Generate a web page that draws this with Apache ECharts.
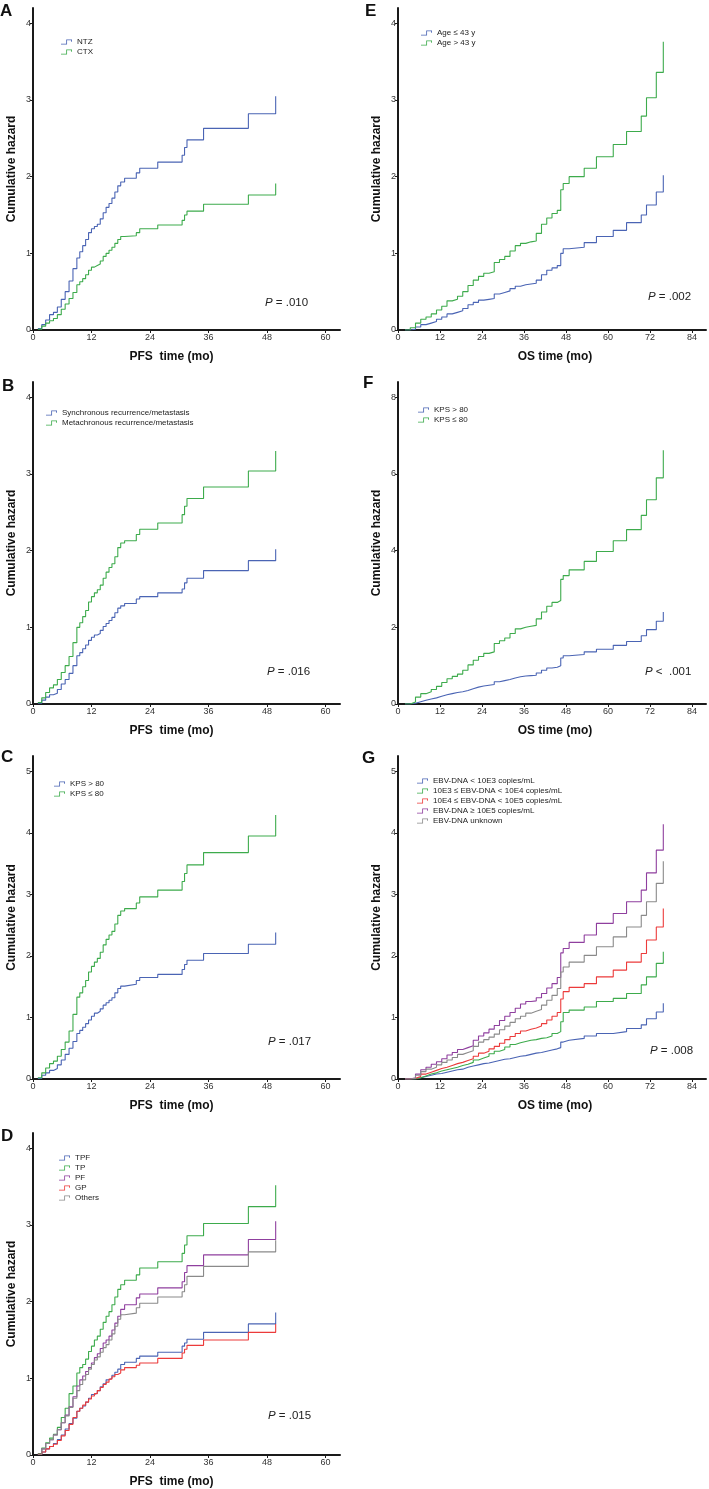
<!DOCTYPE html>
<html>
<head>
<meta charset="utf-8">
<script src="https://cdn.jsdelivr.net/npm/echarts@6/dist/echarts.min.js"></script>
<style>
html, body { margin: 0; padding: 0; background: #fff; }
#chartContainer { width: 709px; height: 1489px; }
</style>
</head>
<body>
<div id="chartContainer"></div>
<script>
'use strict';
// event times (months)
const pfsTimes = [1, 1.8, 2.6, 3.4, 4.2, 5, 5.8, 6.6, 7.4, 8.2, 9, 9.6, 10.2, 10.8, 11.4, 12, 12.6, 13.2, 13.8, 14.4,
    15, 15.6, 16.2, 16.8, 17.4, 18, 18.8, 21.2, 21.9, 25.6, 30.6, 31.1, 31.6, 35, 44.2, 49.8];
const osTimes = [2, 3.5, 5, 6.5, 8, 9.5, 11, 12.5, 14, 15.5, 17, 18.5, 20, 21.5, 23, 24.5, 26, 27.5, 29, 30.5,
    32, 33.5, 35, 36.5, 38, 39.5, 41, 42.5, 44, 45.5, 46.5, 47.2, 48.9, 53.2, 56.7, 61.5, 65.3, 69.5, 71, 73.8, 75.8];

// cumulative hazard, panel A
const aNtz = [0.02, 0.07, 0.13, 0.2, 0.23, 0.3, 0.4, 0.5, 0.64, 0.8, 0.94, 1.02, 1.1, 1.18, 1.27, 1.32, 1.35, 1.38, 1.45, 1.53,
    1.6, 1.65, 1.72, 1.8, 1.88, 1.93, 1.98, 2.05, 2.11, 2.19, 2.28, 2.38, 2.48, 2.63, 2.82, 3.05];
const aCtx = [0.01, 0.05, 0.09, 0.12, 0.15, 0.2, 0.27, 0.34, 0.41, 0.49, 0.59, 0.63, 0.67, 0.72, 0.78, 0.82, 0.84, 0.86, 0.9, 0.96,
    1.0, 1.04, 1.08, 1.13, 1.18, 1.22, 1.23, 1.27, 1.32, 1.37, 1.43, 1.5, 1.55, 1.64, 1.76, 1.91];
// panel B
const bSync = [0.01, 0.05, 0.09, 0.12, 0.14, 0.19, 0.26, 0.32, 0.4, 0.5, 0.63, 0.67, 0.72, 0.77, 0.83, 0.87, 0.9, 0.92, 0.96, 1.01,
    1.05, 1.09, 1.13, 1.19, 1.25, 1.28, 1.31, 1.37, 1.4, 1.45, 1.5, 1.58, 1.64, 1.74, 1.87, 2.02];
const bMeta = [0.02, 0.08, 0.15, 0.21, 0.25, 0.32, 0.41, 0.5, 0.62, 0.8, 1.0, 1.06, 1.14, 1.22, 1.33, 1.4, 1.45, 1.49, 1.55, 1.64,
    1.72, 1.78, 1.83, 1.92, 2.04, 2.1, 2.13, 2.21, 2.28, 2.36, 2.47, 2.58, 2.68, 2.83, 3.04, 3.3];
// panel C
const cKpsHi = [0.01, 0.06, 0.1, 0.14, 0.17, 0.23, 0.31, 0.4, 0.5, 0.61, 0.74, 0.79, 0.84, 0.9, 0.96, 1.02, 1.07, 1.1, 1.14, 1.2,
    1.24, 1.28, 1.32, 1.4, 1.47, 1.51, 1.54, 1.6, 1.65, 1.7, 1.78, 1.86, 1.93, 2.04, 2.19, 2.38];
const cKpsLo = [0.02, 0.1, 0.18, 0.25, 0.29, 0.37, 0.48, 0.6, 0.78, 1.05, 1.33, 1.4, 1.5, 1.6, 1.74, 1.83, 1.9, 1.96, 2.06, 2.18,
    2.27, 2.34, 2.4, 2.52, 2.66, 2.73, 2.77, 2.86, 2.96, 3.07, 3.21, 3.34, 3.48, 3.68, 3.95, 4.29];
// panel D
const dTpf = [0.01, 0.04, 0.08, 0.11, 0.15, 0.2, 0.26, 0.34, 0.41, 0.48, 0.57, 0.61, 0.64, 0.69, 0.74, 0.79, 0.81, 0.84, 0.89, 0.93,
    0.98, 1.0, 1.04, 1.08, 1.12, 1.18, 1.21, 1.26, 1.29, 1.34, 1.42, 1.46, 1.51, 1.6, 1.71, 1.86];
const dTp = [0.02, 0.09, 0.16, 0.22, 0.27, 0.36, 0.49, 0.61, 0.8, 0.9, 1.07, 1.14, 1.18, 1.25, 1.35, 1.42, 1.5, 1.55, 1.64, 1.73,
    1.81, 1.87, 1.96, 2.06, 2.16, 2.22, 2.28, 2.35, 2.44, 2.52, 2.63, 2.74, 2.86, 3.02, 3.24, 3.52];
const dPf = [0.01, 0.08, 0.15, 0.2, 0.26, 0.33, 0.42, 0.52, 0.63, 0.76, 0.9, 0.98, 1.03, 1.09, 1.14, 1.2, 1.27, 1.32, 1.39, 1.46,
    1.5, 1.55, 1.63, 1.72, 1.81, 1.9, 1.96, 2.05, 2.1, 2.18, 2.26, 2.38, 2.47, 2.61, 2.81, 3.05];
const dGp = [0.01, 0.04, 0.08, 0.11, 0.14, 0.19, 0.25, 0.32, 0.4, 0.49, 0.57, 0.61, 0.65, 0.69, 0.73, 0.77, 0.8, 0.84, 0.88, 0.92,
    0.95, 0.99, 1.02, 1.05, 1.07, 1.11, 1.14, 1.17, 1.2, 1.26, 1.33, 1.38, 1.43, 1.5, 1.6, 1.71];
const dOthers = [0.01, 0.08, 0.15, 0.2, 0.26, 0.33, 0.42, 0.51, 0.62, 0.74, 0.84, 0.92, 0.98, 1.05, 1.12, 1.18, 1.24, 1.28, 1.34, 1.4,
    1.44, 1.5, 1.58, 1.68, 1.77, 1.83, 1.85, 1.92, 1.98, 2.06, 2.13, 2.22, 2.33, 2.46, 2.65, 2.8];
// panel E
const eAgeLo = [0, 0.01, 0.04, 0.07, 0.09, 0.11, 0.14, 0.17, 0.21, 0.23, 0.25, 0.28, 0.33, 0.36, 0.39, 0.4, 0.41, 0.47, 0.49, 0.51,
    0.54, 0.57, 0.59, 0.6, 0.61, 0.65, 0.72, 0.78, 0.81, 0.84, 1.0, 1.06, 1.08, 1.14, 1.22, 1.3, 1.4, 1.5, 1.63, 1.8, 2.02];
const eAgeHi = [0, 0.03, 0.09, 0.14, 0.17, 0.21, 0.26, 0.31, 0.38, 0.4, 0.44, 0.5, 0.58, 0.65, 0.7, 0.74, 0.76, 0.88, 0.92, 0.96,
    1.03, 1.1, 1.13, 1.15, 1.16, 1.26, 1.38, 1.46, 1.52, 1.56, 1.83, 1.91, 2.0, 2.11, 2.26, 2.42, 2.59, 2.79, 3.03, 3.36, 3.76];
// panel F
const fKpsHi = [0, 0.02, 0.06, 0.1, 0.13, 0.16, 0.2, 0.24, 0.27, 0.3, 0.32, 0.35, 0.4, 0.44, 0.47, 0.49, 0.51, 0.58, 0.61, 0.64,
    0.68, 0.71, 0.73, 0.74, 0.75, 0.81, 0.88, 0.94, 0.96, 1.0, 1.2, 1.26, 1.29, 1.36, 1.43, 1.53, 1.63, 1.78, 1.94, 2.16, 2.4];
const fKpsLo = [0, 0.05, 0.18, 0.27, 0.32, 0.38, 0.46, 0.56, 0.66, 0.72, 0.78, 0.88, 1.02, 1.14, 1.24, 1.32, 1.36, 1.58, 1.65, 1.72,
    1.84, 1.96, 2.0, 2.03, 2.05, 2.22, 2.4, 2.55, 2.65, 2.7, 3.25, 3.35, 3.5, 3.72, 3.98, 4.26, 4.55, 4.92, 5.33, 5.9, 6.62];
// panel G
const gLt3 = [0, 0, 0.02, 0.04, 0.06, 0.08, 0.09, 0.11, 0.13, 0.15, 0.16, 0.19, 0.21, 0.23, 0.25, 0.26, 0.28, 0.3, 0.32, 0.33,
    0.35, 0.37, 0.38, 0.4, 0.42, 0.43, 0.45, 0.47, 0.49, 0.51, 0.6, 0.63, 0.66, 0.7, 0.74, 0.77, 0.82, 0.88, 0.98, 1.09, 1.23];
const gE3E4 = [0, 0, 0.02, 0.05, 0.08, 0.1, 0.13, 0.15, 0.17, 0.19, 0.22, 0.24, 0.27, 0.31, 0.34, 0.37, 0.41, 0.45, 0.48, 0.52,
    0.56, 0.59, 0.61, 0.63, 0.64, 0.66, 0.67, 0.7, 0.74, 0.77, 0.93, 1.08, 1.12, 1.17, 1.26, 1.31, 1.39, 1.53, 1.66, 1.88, 2.07];
const gE4E5 = [0, 0.01, 0.04, 0.08, 0.11, 0.14, 0.17, 0.19, 0.22, 0.25, 0.27, 0.3, 0.33, 0.37, 0.42, 0.45, 0.49, 0.53, 0.58, 0.64,
    0.69, 0.74, 0.78, 0.81, 0.83, 0.86, 0.9, 0.96, 1.02, 1.08, 1.3, 1.42, 1.49, 1.55, 1.66, 1.77, 1.9, 2.04, 2.26, 2.47, 2.77];
const gGe5 = [0, 0.02, 0.08, 0.15, 0.19, 0.24, 0.28, 0.33, 0.39, 0.43, 0.48, 0.51, 0.54, 0.63, 0.7, 0.75, 0.81, 0.87, 0.95, 1.02,
    1.08, 1.15, 1.22, 1.26, 1.27, 1.32, 1.39, 1.48, 1.55, 1.65, 2.05, 2.12, 2.22, 2.34, 2.53, 2.69, 2.88, 3.07, 3.35, 3.72, 4.14];
const gUnknown = [0, 0.01, 0.06, 0.12, 0.16, 0.19, 0.23, 0.27, 0.31, 0.35, 0.4, 0.43, 0.46, 0.53, 0.6, 0.64, 0.68, 0.73, 0.8, 0.86,
    0.92, 0.98, 1.02, 1.07, 1.1, 1.13, 1.2, 1.28, 1.36, 1.47, 1.74, 1.82, 1.9, 2.01, 2.15, 2.31, 2.47, 2.66, 2.88, 3.18, 3.54];

// tick labels
const pfsTicks = [0, 12, 24, 36, 48, 60];
const osTicks = [0, 12, 24, 36, 48, 60, 72, 84];
const hazTicks4 = [0, 1, 2, 3, 4];
const hazTicks5 = [0, 1, 2, 3, 4, 5];
const hazTicks8 = [0, 2, 4, 6, 8];

let initChart = (function() {
    const FONT = '"Liberation Sans", Arial, sans-serif';
    const BLUE = '#4a64b4', GREEN = '#3dab4c', PURPLE = '#8f3f9e', RED = '#ec3b3b', GRAY = '#8a8a8a';
    const STEP_ICON = 'path://M0,8.5H9.5V0.5H20V5H18.5V2H11V10H0Z';

    let panels = [
        {letter: 'A', letterPos: [0, 3], box: [33, 8, 307, 322], times: pfsTimes, xMax: 63, xTicks: pfsTicks,
            yMax: 4.2, yTicks: hazTicks4, xName: 'PFS  time (mo)', xNamePad: [0, 30, 0, 0],
            pText: '{i|P} = .010', pPos: [265, 297], legendPos: [61, 37],
            lines: [['NTZ', aNtz, BLUE], ['CTX', aCtx, GREEN]]},
        {letter: 'B', letterPos: [2, 378], box: [33, 382, 307, 322], times: pfsTimes, xMax: 63, xTicks: pfsTicks,
            yMax: 4.2, yTicks: hazTicks4, xName: 'PFS  time (mo)', xNamePad: [0, 30, 0, 0],
            pText: '{i|P} = .016', pPos: [267, 666], legendPos: [46, 408],
            lines: [['Synchronous recurrence/metastasis', bSync, BLUE], ['Metachronous recurrence/metastasis', bMeta, GREEN]]},
        {letter: 'C', letterPos: [1, 749], box: [33, 756, 307, 323], times: pfsTimes, xMax: 63, xTicks: pfsTicks,
            yMax: 5.25, yTicks: hazTicks5, xName: 'PFS  time (mo)', xNamePad: [0, 30, 0, 0],
            pText: '{i|P} = .017', pPos: [268, 1036], legendPos: [54, 779],
            lines: [['KPS > 80', cKpsHi, BLUE], ['KPS ≤ 80', cKpsLo, GREEN]]},
        {letter: 'D', letterPos: [1, 1128], box: [33, 1133, 307, 323], times: pfsTimes, xMax: 63, xTicks: pfsTicks,
            yMax: 4.2, yTicks: hazTicks4, xName: 'PFS  time (mo)', xNamePad: [0, 30, 0, 0],
            pText: '{i|P} = .015', pPos: [268, 1410], legendPos: [59, 1153],
            lines: [['TPF', dTpf, BLUE], ['TP', dTp, GREEN], ['PF', dPf, PURPLE], ['GP', dGp, RED], ['Others', dOthers, GRAY]]},
        {letter: 'E', letterPos: [365, 3], box: [398, 8, 308, 322], times: osTimes, xMax: 88, xTicks: osTicks,
            yMax: 4.2, yTicks: hazTicks4, xName: 'OS time (mo)', xNamePad: [0, 0, 0, 6],
            pText: '{i|P} = .002', pPos: [648, 291], legendPos: [421, 28],
            lines: [['Age ≤ 43 y', eAgeLo, BLUE], ['Age > 43 y', eAgeHi, GREEN]]},
        {letter: 'F', letterPos: [363, 375], box: [398, 382, 308, 322], times: osTimes, xMax: 88, xTicks: osTicks,
            yMax: 8.4, yTicks: hazTicks8, xName: 'OS time (mo)', xNamePad: [0, 0, 0, 6],
            pText: '{i|P} <  .001', pPos: [645, 666], legendPos: [418, 405],
            lines: [['KPS > 80', fKpsHi, BLUE], ['KPS ≤ 80', fKpsLo, GREEN]]},
        {letter: 'G', letterPos: [362, 750], box: [398, 756, 308, 323], times: osTimes, xMax: 88, xTicks: osTicks,
            yMax: 5.25, yTicks: hazTicks5, xName: 'OS time (mo)', xNamePad: [0, 0, 0, 6],
            pText: '{i|P} = .008', pPos: [650, 1045], legendPos: [417, 776],
            lines: [['EBV-DNA < 10E3 copies/mL', gLt3, BLUE], ['10E3 ≤ EBV-DNA < 10E4 copies/mL', gE3E4, GREEN],
                ['10E4 ≤ EBV-DNA < 10E5 copies/mL', gE4E5, RED], ['EBV-DNA ≥ 10E5 copies/mL', gGe5, PURPLE],
                ['EBV-DNA unknown', gUnknown, GRAY]]}
    ];

    let grids = [], xAxes = [], yAxes = [], seriesList = [], legends = [], titles = [];

    panels.forEach(function(p, i) {
        grids.push({left: p.box[0], top: p.box[1], width: p.box[2], height: p.box[3]});
        xAxes.push({
            type: 'value', gridIndex: i, min: 0, max: p.xMax,
            name: p.xName, nameLocation: 'middle', nameGap: 21,
            nameTextStyle: {fontFamily: FONT, fontSize: 12, fontWeight: 'bold', color: '#111', padding: p.xNamePad},
            axisLine: {onZero: false, lineStyle: {color: '#1a1a1a', width: 2}},
            axisTick: {length: 3, customValues: p.xTicks, lineStyle: {color: '#1a1a1a', width: 1}},
            axisLabel: {customValues: p.xTicks, fontFamily: FONT, fontSize: 9, color: '#333', margin: 3},
            splitLine: {show: false}
        });
        yAxes.push({
            type: 'value', gridIndex: i, min: 0, max: p.yMax,
            name: 'Cumulative hazard', nameLocation: 'middle', nameGap: 15,
            nameTextStyle: {fontFamily: FONT, fontSize: 12, fontWeight: 'bold', color: '#111'},
            axisLine: {show: true, onZero: false, lineStyle: {color: '#1a1a1a', width: 2}},
            axisTick: {show: true, length: 3, customValues: p.yTicks, lineStyle: {color: '#1a1a1a', width: 1}},
            axisLabel: {customValues: p.yTicks, fontFamily: FONT, fontSize: 9, color: '#333', margin: 2},
            splitLine: {show: false}
        });
        p.lines.forEach(function(s) {
            seriesList.push({
                name: s[0], type: 'line', step: 'end', xAxisIndex: i, yAxisIndex: i,
                data: p.times.map(function(t, k) { return [t, s[1][k]]; }),
                showSymbol: false, symbol: 'none', silent: true,
                color: s[2],
                itemStyle: {color: s[2]},
                lineStyle: {color: s[2], width: 1.1}
            });
        });
        legends.push({
            orient: 'vertical', left: p.legendPos[0], top: p.legendPos[1], padding: 0, itemGap: 0,
            itemWidth: 11, itemHeight: 6, icon: STEP_ICON, selectedMode: false,
            textStyle: {fontFamily: FONT, fontSize: 8, color: '#222', lineHeight: 10},
            data: p.lines.map(function(s) { return s[0]; })
        });
        titles.push({
            text: p.letter, left: p.letterPos[0], top: p.letterPos[1], padding: 0,
            textStyle: {fontFamily: FONT, fontSize: 17, fontWeight: 'bold', color: '#111'}
        });
        titles.push({
            text: p.pText, left: p.pPos[0], top: p.pPos[1], padding: 0,
            textStyle: {fontFamily: FONT, fontSize: 11.5, fontWeight: 'normal', color: '#222',
                rich: {i: {fontFamily: FONT, fontSize: 11.5, fontStyle: 'italic', color: '#222'}}}
        });
    });

    let chartContainer = document.getElementById('chartContainer');
    let kmChart = echarts.init(chartContainer);
    kmChart.setOption({
        backgroundColor: '#fff',
        animation: false,
        title: titles,
        legend: legends,
        grid: grids,
        xAxis: xAxes,
        yAxis: yAxes,
        series: seriesList
    });
})();
</script>
</body>
</html>
